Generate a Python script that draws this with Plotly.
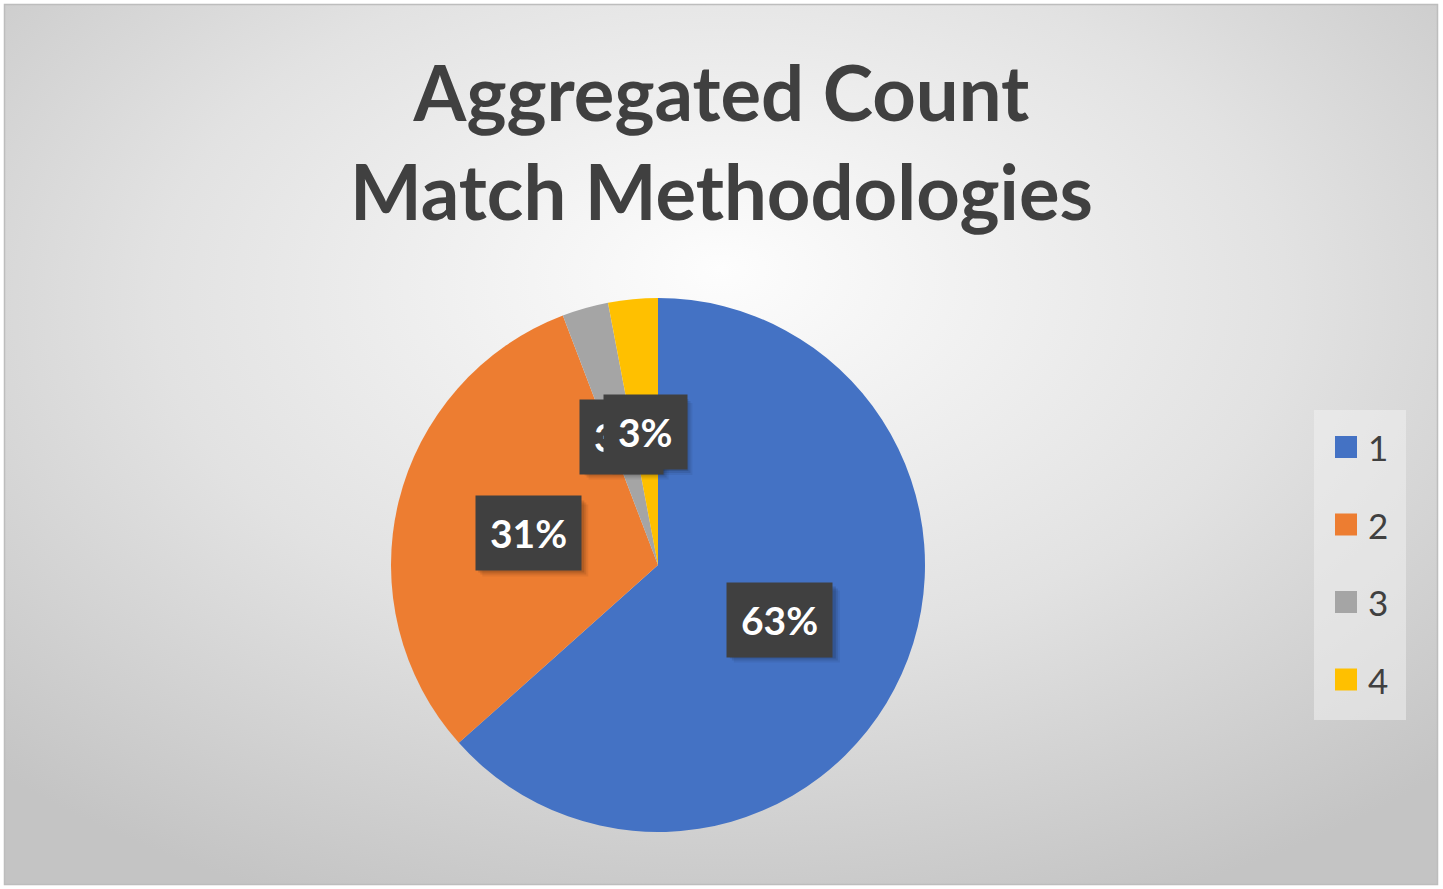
import base64
import math
import plotly.graph_objects as go

# ---- data ----
categories = ["1", "2", "3", "4"]
shares = [63.4, 30.8, 2.8, 3.0]
colors = ["#4472C4", "#ED7D31", "#A5A5A5", "#FFC000"]
title_lines = ["Aggregated Count", "Match Methodologies"]

# ---- layout constants ----
W, H = 1443, 889
CX, CY, R = 658, 565, 267          # pie centre / radius in px
FONT = "Lato"
DARK = "#404040"

def px_to_paper(x, y):
    return x / W, 1 - y / H

# background gradient (svg data uri)
svg = f"""<svg xmlns='http://www.w3.org/2000/svg' width='1432' height='879' viewBox='0 0 1432 879' preserveAspectRatio='none'>
<defs><radialGradient id='g' cx='0.5' cy='0.36' r='0.72' fx='0.5' fy='0.3'>
<stop offset='0' stop-color='#fdfdfd'/><stop offset='0.55' stop-color='#e2e2e2'/><stop offset='1' stop-color='#c4c4c4'/>
</radialGradient></defs><rect width='1432' height='879' fill='url(#g)'/></svg>"""
bg_src = "data:image/svg+xml;base64," + base64.b64encode(svg.encode()).decode()

x0, y0 = px_to_paper(CX - R, CY + R)
x1, y1 = px_to_paper(CX + R, CY - R)

fig = go.Figure(
    go.Pie(
        labels=categories,
        values=shares,
        marker=dict(colors=colors, line=dict(width=0)),
        sort=False,
        direction="clockwise",
        rotation=0,
        textinfo="none",
        hoverinfo="label+percent",
        showlegend=False,
        domain=dict(x=[x0, x1], y=[y0, y1]),
    )
)

annotations = []
shapes = []

# title
tx_, ty_ = px_to_paper(W / 2, 44)
annotations.append(dict(
    x=tx_, y=ty_, xref="paper", yref="paper", xanchor="center", yanchor="top",
    text="<b>" + "<br>".join(title_lines) + "</b>", showarrow=False,
    font=dict(family=FONT, size=76, color=DARK),
))

# data labels at half radius along each slice's mid-angle
total = sum(shares)
cum = 0.0
for cat, v in zip(categories, shares):
    mid = (cum + v / 2) / total
    cum += v
    th = 2 * math.pi * mid
    lx = CX + 0.5 * R * math.sin(th)
    ly = CY - 0.5 * R * math.cos(th)
    px, py = px_to_paper(lx, ly)
    txt = f"{round(100 * v / total)}%"
    # soft shadow box
    bw = 26 * len(txt) + 28
    bh = 72
    for k, alpha in ((7, 0.06), (5, 0.09), (3, 0.12)):
        s0x, s0y = px_to_paper(lx - bw / 2 + k, ly + bh / 2 + k)
        s1x, s1y = px_to_paper(lx + bw / 2 + k, ly - bh / 2 + k)
        shapes.append(dict(type="rect", xref="paper", yref="paper",
                           x0=s0x, y0=s0y, x1=s1x, y1=s1y,
                           fillcolor=f"rgba(0,0,0,{alpha})", line=dict(width=0), layer="above"))
    annotations.append(dict(
        x=px, y=py, xref="paper", yref="paper", text=f"<b>{txt}</b>", showarrow=False,
        xanchor="center", yanchor="middle",
        font=dict(family=FONT, size=39, color="white"),
        bgcolor=DARK, borderpad=14,
    ))

# custom legend
lx0, ly0, lx1, ly1 = 1314, 410, 1406, 720
a, b = px_to_paper(lx0, ly1)
c, d = px_to_paper(lx1, ly0)
shapes.append(dict(type="rect", xref="paper", yref="paper", x0=a, y0=b, x1=c, y1=d,
                   fillcolor="rgba(240,240,240,0.55)", line=dict(width=0), layer="above"))
step = 77.5
for i, (cat, col) in enumerate(zip(categories, colors)):
    yc = 447 + i * step
    sx0, sy0 = px_to_paper(1335, yc + 11)
    sx1, sy1 = px_to_paper(1357, yc - 11)
    shapes.append(dict(type="rect", xref="paper", yref="paper", x0=sx0, y0=sy0, x1=sx1, y1=sy1,
                       fillcolor=col, line=dict(width=0), layer="above"))
    tx, ty = px_to_paper(1366, yc)
    annotations.append(dict(x=tx, y=ty, xref="paper", yref="paper", text=cat, showarrow=False,
                            xanchor="left", yanchor="middle",
                            font=dict(family=FONT, size=35, color=DARK)))

# outer border
bx0, by0 = px_to_paper(4.5, 884.5)
bx1, by1 = px_to_paper(1437.5, 4.5)
shapes.append(dict(type="rect", xref="paper", yref="paper", x0=bx0, y0=by0, x1=bx1, y1=by1,
                   line=dict(color="#bdbdbd", width=1.5), layer="above"))

gx, gy = px_to_paper(5, 5)
fig.update_layout(
    width=W, height=H,
    margin=dict(l=0, r=0, t=0, b=0),
    paper_bgcolor="white",
    plot_bgcolor="white",
    images=[dict(source=bg_src, xref="paper", yref="paper", x=gx, y=gy,
                 sizex=1432 / W, sizey=879 / H, sizing="stretch", layer="below",
                 xanchor="left", yanchor="top")],
    annotations=annotations,
    shapes=shapes,
)

fig.write_html("out.html", config={"displayModeBar": False},
               post_script="document.body.style.margin='0';")
